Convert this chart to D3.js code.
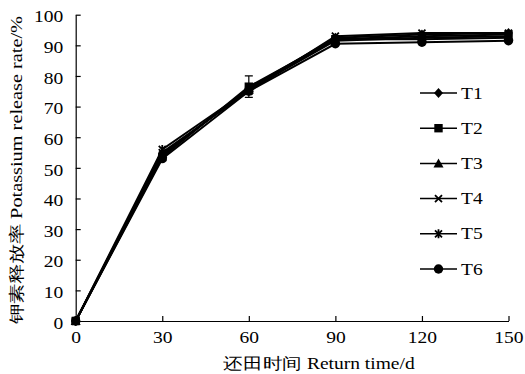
<!DOCTYPE html>
<html><head><meta charset="utf-8">
<script src="https://cdn.jsdelivr.net/npm/d3@7"></script>
<style>body{margin:0;background:#fff}svg{display:block}svg text{font-family:"Liberation Serif","Times New Roman",serif}</style>
</head><body><svg id="c" width="525" height="374"></svg>
<script>
const days = [0, 30, 60, 90, 120, 150];
const seriesNames = ["T1","T2","T3","T4","T5","T6"];
const T1 = [0, 54.0, 76.0, 92.5, 93.5, 94.0];
const T2 = [0, 53.5, 76.5, 92.0, 93.0, 93.5];
const T3 = [0, 54.5, 75.5, 91.5, 92.5, 93.0];
const T4 = [0, 55.0, 75.0, 93.0, 94.0, 94.0];
const T5 = [0, 56.0, 75.5, 92.0, 92.0, 92.5];
const T6 = [0, 53.0, 75.0, 90.5, 91.0, 91.5];
const T2err = [0, 0.5, 3.5, 0.5, 0.5, 0.5];
const xTicks = [0, 30, 60, 90, 120, 150];
const yTicks = [0,10,20,30,40,50,60,70,80,90,100];
const xTitle = "还田时间 Return time/d";
const yTitle = "钾素释放率 Potassium release rate/%";
const markers = ["diamond","square","triangle","cross","asterisk","circle"];
const allSeries = [T1,T2,T3,T4,T5,T6];

const SX = 1.22;
const svg = d3.select("#c");
const x = d3.scaleLinear().domain([0,150]).range([75.7, 508.5]);
const y = d3.scaleLinear().domain([0,100]).range([321, 14.7]);
const font = "'Liberation Serif','Times New Roman',serif";

// axes
const xa = svg.append("g").attr("transform","translate(0,321)")
  .call(d3.axisBottom(x).tickValues(xTicks).tickSizeInner(-5).tickSizeOuter(0).tickPadding(0));
xa.attr("font-family",null);
xa.select(".domain").attr("stroke","#000").attr("stroke-width",1.2);
xa.selectAll(".tick line").attr("stroke","#000").attr("stroke-width",1.2);
xa.selectAll(".tick text").style("font-family",font).attr("font-size",16).attr("fill","#000")
  .attr("y",22).attr("dy",0).attr("transform",`scale(${SX},1)`);

const ya = svg.append("g").attr("transform","translate(75.7,0)")
  .call(d3.axisLeft(y).tickValues(yTicks).tickSizeInner(-5).tickSizeOuter(0).tickPadding(0));
ya.attr("font-family",null);
ya.select(".domain").attr("stroke","#000").attr("stroke-width",1.2);
ya.selectAll(".tick line").attr("stroke","#000").attr("stroke-width",1.2);
ya.selectAll(".tick text").style("font-family",font).attr("font-size",16).attr("fill","#000")
  .attr("x",-12.5/SX).attr("dy","0.45em").attr("transform",`scale(${SX},1)`);

// titles
svg.append("text").attr("transform",`translate(319,369) scale(${SX},1)`)
  .attr("text-anchor","middle").style("font-family",font).attr("font-size",16)
  .text(xTitle);
svg.append("text").attr("transform",`translate(22,170) rotate(-90) scale(1.27,1)`)
  .attr("text-anchor","middle").style("font-family",font).attr("font-size",16)
  .text(yTitle);

function drawMarker(g, type, cx, cy){
  const s = 4.5;
  if(type==="diamond") g.append("path").attr("d",`M${cx},${cy-s-0.5}L${cx+s},${cy}L${cx},${cy+s+0.5}L${cx-s},${cy}Z`).attr("fill","#000");
  else if(type==="square") g.append("rect").attr("x",cx-4.2).attr("y",cy-4.2).attr("width",8.4).attr("height",8.4).attr("fill","#000");
  else if(type==="triangle") g.append("path").attr("d",`M${cx},${cy-5}L${cx+5},${cy+4}L${cx-5},${cy+4}Z`).attr("fill","#000");
  else if(type==="cross") g.append("path").attr("d",`M${cx-3.5},${cy-3.5}L${cx+3.5},${cy+3.5}M${cx-3.5},${cy+3.5}L${cx+3.5},${cy-3.5}`).attr("stroke","#000").attr("stroke-width",1.8);
  else if(type==="asterisk") g.append("path").attr("d",`M${cx-3.5},${cy-3.5}L${cx+3.5},${cy+3.5}M${cx-3.5},${cy+3.5}L${cx+3.5},${cy-3.5}M${cx},${cy-4.5}L${cx},${cy+4.5}`).attr("stroke","#000").attr("stroke-width",1.8);
  else if(type==="circle") g.append("circle").attr("cx",cx).attr("cy",cy).attr("r",4.7).attr("fill","#000");
}

const line = d3.line().x((d,i)=>x(days[i])).y(d=>y(d));
const plot = svg.append("g");
// error bars for T2
days.forEach((d,i)=>{
  if(T2err[i] > 1){
    const cx = x(d), y1 = y(T2[i]+T2err[i]), y2 = y(T2[i]-T2err[i]);
    plot.append("path").attr("d",`M${cx},${y1}L${cx},${y2}M${cx-4},${y1}L${cx+4},${y1}M${cx-4},${y2}L${cx+4},${y2}`)
      .attr("stroke","#000").attr("stroke-width",1.2).attr("fill","none");
  }
});
allSeries.forEach((s,k)=>{
  plot.append("path").datum(s).attr("d",line).attr("fill","none").attr("stroke","#000").attr("stroke-width",2);
});
allSeries.forEach((s,k)=>{
  s.forEach((v,i)=>drawMarker(plot, markers[k], x(days[i]), y(v)));
});

// legend
const lg = svg.append("g");
seriesNames.forEach((n,k)=>{
  const ly = 93 + k*35.2;
  lg.append("line").attr("x1",420).attr("x2",457).attr("y1",ly).attr("y2",ly).attr("stroke","#000").attr("stroke-width",1.5);
  drawMarker(lg, markers[k], 438.5, ly);
  lg.append("text").attr("transform",`translate(461,${ly}) scale(${SX},1)`).attr("dy","0.35em")
    .style("font-family",font).attr("font-size",16).text(n);
});
</script></body></html>
